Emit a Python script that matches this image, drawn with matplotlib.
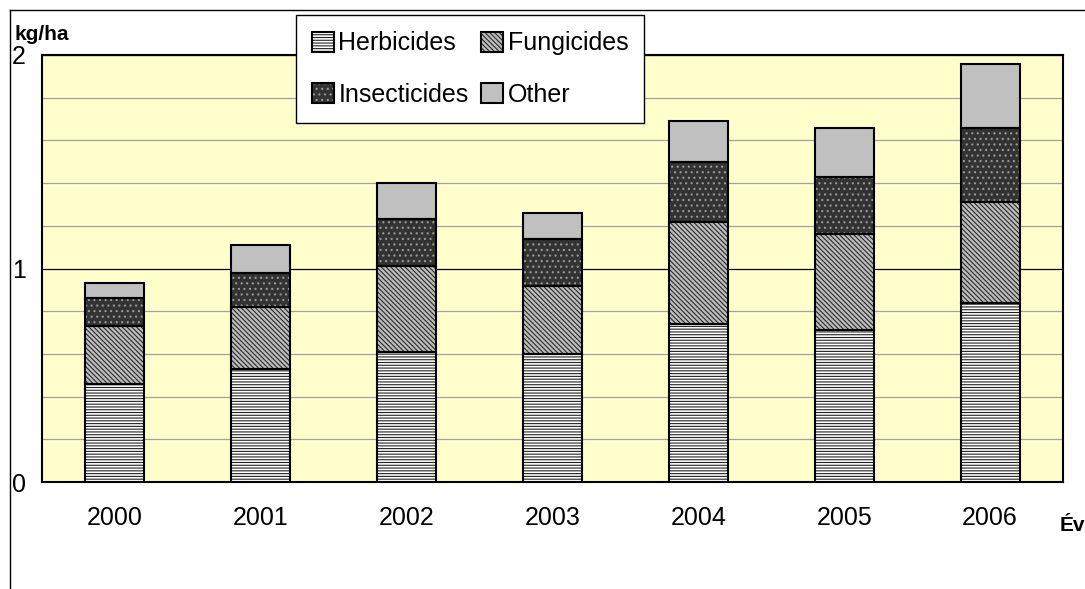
import matplotlib
matplotlib.use("Agg")
import matplotlib.pyplot as plt
from matplotlib.ticker import FixedLocator
from matplotlib.lines import Line2D
import numpy as np

# ---- data ----
years = ["2000", "2001", "2002", "2003", "2004", "2005", "2006"]
herbicides = [0.46, 0.53, 0.61, 0.60, 0.74, 0.71, 0.84]
fungicides = [0.27, 0.29, 0.40, 0.32, 0.48, 0.45, 0.47]
insecticides = [0.13, 0.16, 0.22, 0.22, 0.28, 0.27, 0.35]
other = [0.07, 0.13, 0.17, 0.12, 0.19, 0.23, 0.30]
series_names = ["Herbicides", "Fungicides", "Insecticides", "Other"]
y_label = "kg/ha"
x_label = "Év"

plt.rcParams['font.family'] = ['Liberation Sans', 'DejaVu Sans']
plt.rcParams['hatch.linewidth'] = 0.8

W, H = 1085, 589
fig = plt.figure(figsize=(W / 100, H / 100), dpi=100)
fig.patch.set_facecolor('white')

# outer chart border (top and left visible)
fig.add_artist(Line2D([10 / W, 1], [1 - 10 / H, 1 - 10 / H], color='black', lw=1.0))
fig.add_artist(Line2D([10 / W, 10 / W], [0, 1 - 10 / H], color='black', lw=1.0))

ax = fig.add_axes([42 / W, 1 - 482 / H, 1021 / W, 427 / H])
ax.set_facecolor('#FFFFCC')

x = np.arange(len(years))
bw = 0.405

styles = [
    dict(face='white', hatch='------', hcol='#222222'),
    dict(face='#bdbdbd', hatch='\\\\\\\\\\\\\\', hcol='#2a2a2a'),
    dict(face='#333333', hatch='...', hcol='#9a9a9a'),
    dict(face='#c0c0c0', hatch=None, hcol='#c0c0c0'),
]

data = [herbicides, fungicides, insecticides, other]
bottom = np.zeros(len(years))
handles = []
for vals, st in zip(data, styles):
    vals = np.array(vals)
    b1 = ax.bar(x, vals, bw, bottom=bottom, color=st['face'], edgecolor=st['hcol'],
                hatch=st['hatch'], linewidth=0, zorder=3)
    b2 = ax.bar(x, vals, bw, bottom=bottom, fill=False, edgecolor='black',
                linewidth=1.5, zorder=4)
    handles.append((b1[0], b2[0]))
    bottom = bottom + vals

ax.set_xlim(-0.5, len(years) - 0.5)
ax.set_ylim(0, 2)
ax.set_xticks(x)
ax.set_xticklabels(years, fontsize=18)
ax.set_yticks([0, 1, 2])
ax.set_yticklabels(["0", "1", "2"], fontsize=18)
ax.yaxis.set_minor_locator(FixedLocator([0.2, 0.4, 0.6, 0.8, 1.2, 1.4, 1.6, 1.8]))
ax.tick_params(axis='x', length=0, pad=17)
ax.tick_params(axis='y', which='both', length=0, pad=11.5)
ax.grid(axis='y', which='minor', color='#a0a0a0', lw=0.9, zorder=1)
ax.grid(axis='y', which='major', color='black', lw=0.9, zorder=1)
ax.set_axisbelow(True)
for s in ax.spines.values():
    s.set_linewidth(1.5)
    s.set_color('black')

fig.text(14 / W, 1 - 40 / H, y_label, fontsize=15, fontweight='bold', ha='left', va='baseline')
fig.text(1060 / W, 1 - 531 / H, x_label, fontsize=15, fontweight='bold', ha='left', va='baseline')

# legend order: row 1 Herbicides, Fungicides; row 2 Insecticides, Other
order = [0, 2, 1, 3]
leg = fig.legend([handles[i] for i in order], [series_names[i] for i in order],
                 loc='upper left',
                 bbox_to_anchor=(296 / W, 1 - 15 / H), ncol=2, fontsize=18,
                 frameon=True, fancybox=False, shadow=False,
                 handlelength=0.85, handleheight=0.85, handletextpad=0.2,
                 labelspacing=1.1, columnspacing=0.5, borderpad=0.65,
                 borderaxespad=0)
leg.get_frame().set_edgecolor('black')
leg.get_frame().set_linewidth(1.0)
leg.get_frame().set_facecolor('white')
leg.get_frame().set_alpha(1)

fig.savefig('out.png', dpi=100)
